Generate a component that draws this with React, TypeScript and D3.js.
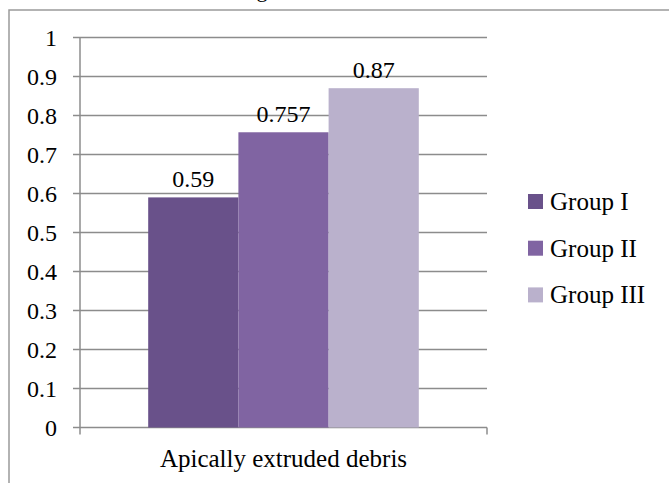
import React from "react";
import * as d3 from "d3";

const categories = ["Apically extruded debris"];
const seriesNames = ["Group I", "Group II", "Group III"];
const seriesValues = [0.59, 0.757, 0.87];
const seriesLabels = ["0.59", "0.757", "0.87"];
const yTicks = [0, 0.1, 0.2, 0.3, 0.4, 0.5, 0.6, 0.7, 0.8, 0.9, 1];
const colors = ["#69518A", "#8064A2", "#BAB1CC"];

const FONT = "'Liberation Serif', 'Times New Roman', serif";

export default function App() {
  const left = 80, right = 487, top = 37.5, bottom = 427.5;
  const y = d3.scaleLinear().domain([0, 1]).range([bottom, top]);
  const x0 = d3.scaleBand().domain(categories).range([left, right]).paddingInner(0).paddingOuter(0.252);
  const x1 = d3.scaleBand().domain(seriesNames).range([0, x0.bandwidth()]);

  return (
    <svg width={669} height={483} style={{ position: "absolute", left: 0, top: 0, background: "#fff" }}>
      <text x={262} y={-3} textAnchor="middle" fontFamily={FONT} fontSize={22} fill="#000">g</text>
      <rect x={9} y={10} width={700} height={520} fill="none" stroke="#9a9a9a" strokeWidth={1.5} />
      {yTicks.map((t) => (
        <g key={t}>
          <line x1={73} x2={right} y1={y(t)} y2={y(t)} stroke="#8c8c8c" strokeWidth={1.5} />
          <text x={57} y={y(t)} textAnchor="end" dominantBaseline="central" fontFamily={FONT} fontSize={24} fill="#000">
            {d3.format("~g")(t)}
          </text>
        </g>
      ))}
      <line x1={left} x2={left} y1={top} y2={bottom} stroke="#8c8c8c" strokeWidth={1.5} />
      {[left, right].map((xx) => (
        <line key={xx} x1={xx} x2={xx} y1={bottom} y2={bottom + 7} stroke="#8c8c8c" strokeWidth={1.5} />
      ))}
      {categories.map((c) => (
        <g key={c} transform={`translate(${x0(c)},0)`}>
          {seriesNames.map((s, i) => (
            <rect key={s} x={x1(s)} y={y(seriesValues[i])} width={x1.bandwidth()} height={bottom - y(seriesValues[i])} fill={colors[i]} />
          ))}
          {seriesNames.map((s, i) => (
            <text key={s} x={(x1(s) as number) + x1.bandwidth() / 2} y={y(seriesValues[i]) - 10} textAnchor="middle" fontFamily={FONT} fontSize={24} fill="#000">
              {seriesLabels[i]}
            </text>
          ))}
        </g>
      ))}
      {categories.map((c) => (
        <text key={c} x={(x0(c) as number) + x0.bandwidth() / 2} y={467} textAnchor="middle" fontFamily={FONT} fontSize={25} fill="#000">
          {c}
        </text>
      ))}
      {seriesNames.map((s, i) => (
        <g key={s} transform={`translate(528,${201.5 + i * 46.7})`}>
          <rect x={0} y={-7.5} width={15} height={15} fill={colors[i]} />
          <text x={22} y={0} dominantBaseline="central" fontFamily={FONT} fontSize={25} fill="#000">{s}</text>
        </g>
      ))}
    </svg>
  );
}
